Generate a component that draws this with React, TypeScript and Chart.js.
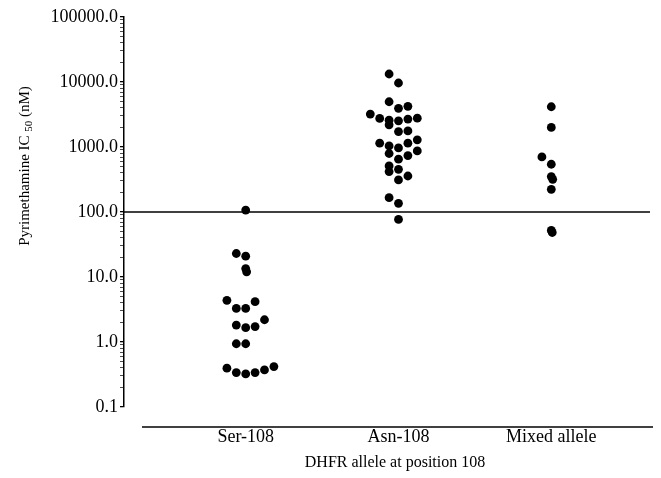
import React, { useEffect, useRef } from "react";
import { Chart, registerables } from "chart.js";
Chart.register(...registerables);

// ---- data ----
const categories = ["Ser-108", "Asn-108", "Mixed allele"];
const serValues = [107, 23.0, 20.9, 13.5, 12.0, 4.37, 4.17, 3.29, 3.29, 1.82, 1.66, 1.73, 2.2, 0.94, 0.94, 0.395, 0.338, 0.323, 0.338, 0.372, 0.419];
const serSlots = [0, -1, 0, 0, 0.1, -2, 1, -1, 0, -1, 0, 1, 2, -1, 0, -2, -1, 0, 1, 2, 3];
const asnValues = [13280, 9650, 4970, 3930, 4220, 3210, 2750, 2590, 2190, 2530, 2690, 2780, 1730, 1770, 1145, 1040, 968, 1145, 1290, 794, 739, 871, 649, 511, 419, 454, 311, 358, 166, 136, 76.9];
const asnSlots = [-1, 0, -1, 0, 1, -3, -2, -1, -1, 0, 1, 2, 0, 1, -2, -1, 0, 1, 2, -1, 1, 2, 0, -1, -1, 0, 0, 1, -1, 0, 0];
const mixValues = [4160, 2000, 703, 543, 351, 318, 223, 52, 48.4];
const mixSlots = [0, 0, -1, 0, 0, 0.15, 0, 0, 0.1];
const majorTicks = [0.1, 1, 10, 100, 1000, 10000, 100000];
const threshold = 100;
const xTitle = "DHFR allele at position 108";
const yTitleMain = "Pyrimethamine IC";
const yTitleSub = "50";
const yTitleUnit = " (nM)";

const SLOT = 0.0615;
const X_MIN = 0.2035;
const X_MAX = 3.646;
const FONT = "'Liberation Serif', 'Times New Roman', serif";

const titlesPlugin = {
  id: "titles",
  afterDraw(chart: any) {
    const { ctx, chartArea } = chart;
    ctx.save();
    // separate x axis line
    ctx.strokeStyle = "#000";
    ctx.lineWidth = 1.5;
    ctx.beginPath();
    ctx.moveTo(chartArea.left + 18, chartArea.bottom + 20);
    ctx.lineTo(chartArea.right + 3, chartArea.bottom + 20);
    ctx.stroke();
    // x title
    ctx.fillStyle = "#000";
    ctx.font = `16px ${FONT}`;
    ctx.textAlign = "center";
    ctx.textBaseline = "middle";
    ctx.fillText(xTitle, 395, 463);
    // y title with subscript
    ctx.translate(25, 166);
    ctx.rotate(-Math.PI / 2);
    ctx.textAlign = "left";
    ctx.textBaseline = "middle";
    const mainFont = `15px ${FONT}`;
    const subFont = `11px ${FONT}`;
    ctx.font = mainFont;
    const w1 = ctx.measureText(yTitleMain + " ").width;
    const w3 = ctx.measureText(yTitleUnit).width;
    ctx.font = subFont;
    const w2 = ctx.measureText(yTitleSub).width;
    const total = w1 + w2 + w3;
    let x = -total / 2;
    ctx.font = mainFont;
    ctx.fillText(yTitleMain + " ", x, 0);
    x += w1;
    ctx.font = subFont;
    ctx.fillText(yTitleSub, x, 4);
    x += w2;
    ctx.font = mainFont;
    ctx.fillText(yTitleUnit, x, 0);
    ctx.restore();
  },
};

function isMajor(v: number) {
  return majorTicks.some((m) => Math.abs(v - m) / m < 1e-6);
}

export default function App() {
  const ref = useRef<HTMLCanvasElement | null>(null);
  useEffect(() => {
    document.body.style.margin = "0";
    if (!ref.current) return;
    const mk = (vals: number[], slots: number[], idx: number) =>
      vals.map((v, i) => ({ x: idx + 1 + slots[i] * SLOT, y: v }));
    const dot = {
      type: "scatter" as const,
      pointRadius: 4.4,
      pointHoverRadius: 4.4,
      backgroundColor: "#000",
      borderColor: "#000",
      borderWidth: 0,
    };
    const tickValues: number[] = [];
    for (let d = 0.1; d < 50000; d *= 10) {
      for (let k = 1; k <= 9; k++) tickValues.push(+(d * k).toPrecision(6));
    }
    tickValues.push(100000);

    const chart = new Chart(ref.current, {
      type: "scatter",
      data: {
        datasets: [
          { ...dot, label: categories[0], data: mk(serValues, serSlots, 0) },
          { ...dot, label: categories[1], data: mk(asnValues, asnSlots, 1) },
          { ...dot, label: categories[2], data: mk(mixValues, mixSlots, 2) },
          {
            type: "line",
            label: "threshold",
            data: [
              { x: X_MIN, y: threshold },
              { x: X_MAX, y: threshold },
            ],
            borderColor: "#000",
            borderWidth: 1.5,
            pointRadius: 0,
            showLine: true,
          } as any,
        ],
      },
      options: {
        responsive: false,
        animation: false,
        color: "#000",
        layout: { padding: { top: 17, right: 11, left: 0, bottom: 0 } },
        plugins: { legend: { display: false }, tooltip: { enabled: false } },
        scales: {
          x: {
            type: "linear",
            min: X_MIN,
            max: X_MAX,
            afterFit: (s: any) => {
              s.height = 71;
            },
            afterBuildTicks: (s: any) => {
              s.ticks = categories.map((_, i) => ({ value: i + 1 }));
            },
            grid: { display: false, drawTicks: false },
            border: { display: false },
            ticks: {
              color: "#000",
              font: { family: FONT, size: 18 },
              padding: 19,
              autoSkip: false,
              maxRotation: 0,
              callback: (v: any) => categories[Math.round(Number(v)) - 1] ?? "",
            },
          },
          y: {
            type: "logarithmic",
            min: 0.1,
            max: 100000,
            afterFit: (s: any) => {
              s.width = 124;
            },
            afterBuildTicks: (s: any) => {
              s.ticks = tickValues.map((v) => ({ value: v, major: isMajor(v) }));
            },
            border: { display: true, color: "#000", width: 1.5 },
            grid: {
              display: true,
              drawOnChartArea: false,
              drawTicks: true,
              tickLength: 4,
              color: "#000",
              lineWidth: (c: any) => (c.tick && isMajor(c.tick.value) ? 1.3 : 0.7),
            },
            ticks: {
              color: "#000",
              font: { family: FONT, size: 18 },
              padding: 2,
              autoSkip: false,
              callback: (v: any) => (isMajor(Number(v)) ? Number(v).toFixed(1) : ""),
            },
          },
        },
      },
      plugins: [titlesPlugin],
    });
    return () => chart.destroy();
  }, []);
  return <canvas ref={ref} width={661} height={478} style={{ display: "block", width: 661, height: 478 }} />;
}
